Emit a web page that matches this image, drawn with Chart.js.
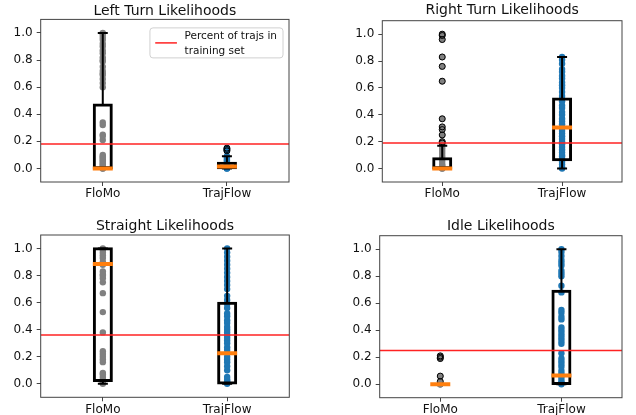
<!DOCTYPE html>
<html>
<head>
<meta charset="utf-8">
<script src="https://cdn.jsdelivr.net/npm/chart.js@4.4.1/dist/chart.umd.min.js"></script>
<style>
  body { margin: 0; background: #fff; }
  #wrap { position: relative; width: 636px; height: 415px; }
  canvas { position: absolute; }
</style>
</head>
<body>
<div id="wrap">
  <canvas id="c0" width="318" height="205" style="left:0;top:0"></canvas>
  <canvas id="c1" width="318" height="205" style="left:318px;top:0"></canvas>
  <canvas id="c2" width="318" height="210" style="left:0;top:205px"></canvas>
  <canvas id="c3" width="318" height="210" style="left:318px;top:205px"></canvas>
</div>
<script>
// ---- data ----
const categories = ["FloMo", "TrajFlow"];
const yTicks = [0, 0.2, 0.4, 0.6, 0.8, 1.0];
const titles = ["Left Turn Likelihoods", "Right Turn Likelihoods", "Straight Likelihoods", "Idle Likelihoods"];
const trainPercent = [0.18, 0.19, 0.36, 0.25];
const legendText = ["Percent of trajs in", "training set"];

// box stats: [lowWhisker, q1, median, q3, highWhisker]
const leftFloMoBox = [0, 0, 0, 0.47, 1.0];
const leftTrajFlowBox = [0, 0, 0.015, 0.04, 0.09];
const leftFloMo = [0, 0, 0.01, 0.02, 0.03, 0.04, 0.05, 0.06, 0.07, 0.08, 0.09, 0.1, 0.21, 0.24, 0.25, 0.32, 0.34,
  0.6, 0.63, 0.66, 0.69, 0.7, 0.72, 0.75, 0.79, 0.8, 0.82, 0.85, 0.87, 0.9, 0.92, 0.95, 0.97, 0.99, 1.0];
const leftTrajFlow = [0, 0, 0.005, 0.01, 0.015, 0.02, 0.025, 0.03, 0.04, 0.05, 0.06, 0.07, 0.08, 0.09, 0.13, 0.14, 0.15];
const leftFloMoFliers = [];
const leftTrajFlowFliers = [0.13, 0.14, 0.15];

const rightFloMoBox = [0, 0, 0, 0.074, 0.17];
const rightTrajFlowBox = [0, 0.064, 0.305, 0.52, 0.83];
const rightFloMo = [0, 0, 0.01, 0.02, 0.03, 0.05, 0.07, 0.09, 0.11, 0.13, 0.15, 0.17, 0.19, 0.2, 0.25, 0.29, 0.31, 0.37,
  0.65, 0.76, 0.83, 0.96, 0.99, 1.0];
const rightTrajFlow = [0, 0.01, 0.03, 0.05, 0.07, 0.09, 0.1, 0.12, 0.14, 0.16, 0.18, 0.2, 0.22, 0.24, 0.26, 0.28, 0.3,
  0.31, 0.33, 0.35, 0.37, 0.4, 0.42, 0.45, 0.47, 0.5, 0.52, 0.54, 0.57, 0.6, 0.62, 0.64, 0.67, 0.69, 0.72, 0.74, 0.78, 0.81, 0.83];
const rightFloMoFliers = [0.19, 0.2, 0.25, 0.29, 0.31, 0.37, 0.65, 0.76, 0.83, 0.96, 0.99, 1.0];
const rightTrajFlowFliers = [];

const straightFloMoBox = [0, 0.022, 0.885, 1.0, 1.0];
const straightTrajFlowBox = [0, 0, 0.226, 0.597, 1.0];
const straightFloMo = [0, 0.01, 0.02, 0.03, 0.05, 0.07, 0.08, 0.16, 0.18, 0.2, 0.22, 0.24, 0.38, 0.53, 0.67, 0.75, 0.78,
  0.8, 0.81, 0.83, 0.88, 0.9, 0.93, 0.95, 0.97, 0.99, 1.0];
const straightTrajFlow = [0, 0.01, 0.02, 0.03, 0.05, 0.1, 0.13, 0.16, 0.18, 0.2, 0.25, 0.27, 0.3, 0.32, 0.34, 0.36, 0.38,
  0.4, 0.42, 0.45, 0.47, 0.5, 0.52, 0.56, 0.59, 0.62, 0.65, 0.7, 0.73, 0.76, 0.79, 0.82, 0.85, 0.88, 0.91, 0.94, 0.97, 1.0];
const straightFloMoFliers = [];
const straightTrajFlowFliers = [];

const idleFloMoBox = [0, 0, 0, 0, 0];
const idleTrajFlowBox = [0, 0, 0.064, 0.69, 1.0];
const idleFloMo = [0, 0, 0, 0.005, 0.02, 0.06, 0.19, 0.2, 0.21];
const idleTrajFlow = [0, 0.01, 0.02, 0.04, 0.06, 0.08, 0.1, 0.13, 0.15, 0.17, 0.19, 0.23, 0.3, 0.32, 0.34, 0.36, 0.38,
  0.4, 0.42, 0.48, 0.5, 0.53, 0.55, 0.68, 0.73, 0.8, 0.82, 0.84, 0.88, 0.9, 0.92, 0.95, 0.98, 1.0];
const idleFloMoFliers = [0.02, 0.06, 0.19, 0.2, 0.21];
const idleTrajFlowFliers = [];

// ---- layout / style ----
const pointColors = ["#808080", "#1f77b4"];
const panels = [
  { id: "c0", boxes: [leftFloMoBox, leftTrajFlowBox], points: [leftFloMo, leftTrajFlow], fliers: [leftFloMoFliers, leftTrajFlowFliers],
    yW: 40.7, xH: 23, padRight: 29, titlePad: { top: 2.6, bottom: 0 }, legend: true },
  { id: "c1", boxes: [rightFloMoBox, rightTrajFlowBox], points: [rightFloMo, rightTrajFlow], fliers: [rightFloMoFliers, rightTrajFlowFliers],
    yW: 64.3, xH: 23, padRight: 4, titlePad: { top: 2.4, bottom: 1.5 } },
  { id: "c2", boxes: [straightFloMoBox, straightTrajFlowBox], points: [straightFloMo, straightTrajFlow], fliers: [straightFloMoFliers, straightTrajFlowFliers],
    yW: 40.7, xH: 17.7, padRight: 28.7, titlePad: { top: 12.9, bottom: 0.3 } },
  { id: "c3", boxes: [idleFloMoBox, idleTrajFlowBox], points: [idleFloMo, idleTrajFlow], fliers: [idleFloMoFliers, idleTrajFlowFliers],
    yW: 61.7, xH: 17.3, padRight: 7, titlePad: { top: 12.6, bottom: 1.3 } },
];

Chart.defaults.font.family = "'DejaVu Sans', sans-serif";
Chart.defaults.font.size = 12;
Chart.defaults.color = "#111";

// axes frame (all four spines)
const framePlugin = {
  id: "frame",
  afterDraw(chart) {
    const { ctx, chartArea: a } = chart;
    ctx.save();
    ctx.strokeStyle = "#444";
    ctx.lineWidth = 1;
    ctx.strokeRect(a.left, a.top, a.right - a.left, a.bottom - a.top);
    ctx.restore();
  },
};

// upper right legend of the first panel
const legendPlugin = {
  id: "boxLegend",
  afterDraw(chart) {
    const { ctx, chartArea: a } = chart;
    ctx.save();
    ctx.font = "10.5px 'DejaVu Sans'";
    const textW = Math.max(...legendText.map((t) => ctx.measureText(t).width));
    const w = 5.3 + 21.7 + 7.6 + textW + 6;
    const h = 30;
    const x = a.right - 6 - w;
    const y = a.top + 8.5;
    ctx.beginPath();
    ctx.roundRect(x, y, w, h, 3);
    ctx.fillStyle = "rgba(255,255,255,0.8)";
    ctx.fill();
    ctx.strokeStyle = "#d0d0d0";
    ctx.lineWidth = 1;
    ctx.stroke();
    ctx.beginPath();
    ctx.moveTo(x + 5.3, y + h / 2);
    ctx.lineTo(x + 27, y + h / 2);
    ctx.strokeStyle = "#f22";
    ctx.lineWidth = 1.5;
    ctx.stroke();
    ctx.fillStyle = "#111";
    ctx.textBaseline = "alphabetic";
    legendText.forEach((t, i) => ctx.fillText(t, x + 34.6, y + 11 + i * 15));
    ctx.restore();
  },
};

function makeChart(p, idx) {
  const datasets = [];
  datasets.push({
    type: "line",
    data: [{ x: 0.5, y: trainPercent[idx] }, { x: 2.5, y: trainPercent[idx] }],
    borderColor: "#f22", borderWidth: 1.5, pointRadius: 0, order: 0,
  });
  categories.forEach((cat, i) => {
    const x = i + 1;
    const b = p.boxes[i];
    datasets.push({
      type: "scatter", data: p.points[i].map((y) => ({ x, y })),
      backgroundColor: pointColors[i], pointRadius: 3.2, borderWidth: 0, order: 6,
    });
    [[b[0], b[1]], [b[3], b[4]]].forEach(([y0, y1]) => {
      datasets.push({
        type: "line", data: [{ x, y: y0 }, { x, y: y1 }],
        borderColor: "#000", borderWidth: 2, pointRadius: 0, order: 4,
      });
    });
    datasets.push({
      type: "scatter", data: [{ x, y: b[0] }, { x, y: b[4] }],
      pointStyle: "line", pointRadius: 5, borderColor: "#000", borderWidth: 2, order: 3,
    });
    datasets.push({
      type: "scatter", data: p.fliers[i].map((y) => ({ x, y })),
      pointRadius: 3, backgroundColor: "rgba(0,0,0,0)", borderColor: "#000", borderWidth: 1, order: 2,
    });
    datasets.push({
      type: "scatter", data: [{ x, y: b[2] }],
      pointStyle: "line", pointRadius: 10, borderColor: "#ff7f0e", borderWidth: 4, order: 1,
    });
  });
  // box: thin border plus inflation so the ~3px outline sits roughly centred on q1/q3
  datasets.push({
    type: "bar",
    data: categories.map((c, i) => ({ x: i + 1, y: [p.boxes[i][1], p.boxes[i][3]] })),
    backgroundColor: "rgba(0,0,0,0)", borderColor: "#000", borderWidth: 0.5,
    borderSkipped: false, barThickness: 17.5, inflateAmount: 1.25, grouped: false, order: 5,
  });

  const plugins = [framePlugin];
  if (p.legend) plugins.push(legendPlugin);

  return new Chart(document.getElementById(p.id), {
    type: "scatter",
    data: { datasets },
    plugins,
    options: {
      responsive: false,
      animation: false,
      events: [],
      layout: { padding: { left: 0, right: p.padRight, top: 0, bottom: 0 } },
      plugins: {
        legend: { display: false },
        tooltip: { enabled: false },
        title: {
          display: true, text: titles[idx], fullSize: false,
          font: { size: 14, weight: "normal" }, color: "#111",
          padding: p.titlePad,
        },
      },
      scales: {
        x: {
          type: "linear", min: 0.5, max: 2.5, offset: false,
          grid: { offset: false, drawOnChartArea: false, drawTicks: true, tickLength: 4, color: "#444" },
          border: { display: false },
          ticks: { padding: 1, maxRotation: 0, autoSkip: false, font: { size: 12 },
            callback: (v) => categories[Math.round(v) - 1] },
          afterBuildTicks: (s) => { s.ticks = categories.map((c, i) => ({ value: i + 1 })); },
          afterFit: (s) => { s.height = p.xH; },
        },
        y: {
          type: "linear", min: -0.1, max: 1.1,
          grid: { drawOnChartArea: false, drawTicks: true, tickLength: 4, color: "#444" },
          border: { display: false },
          ticks: { padding: 4, font: { size: 12 }, callback: (v) => v.toFixed(1) },
          afterBuildTicks: (s) => { s.ticks = yTicks.map((v) => ({ value: v })); },
          afterFit: (s) => { s.width = p.yW; },
        },
      },
    },
  });
}

panels.forEach(makeChart);
</script>
</body>
</html>
